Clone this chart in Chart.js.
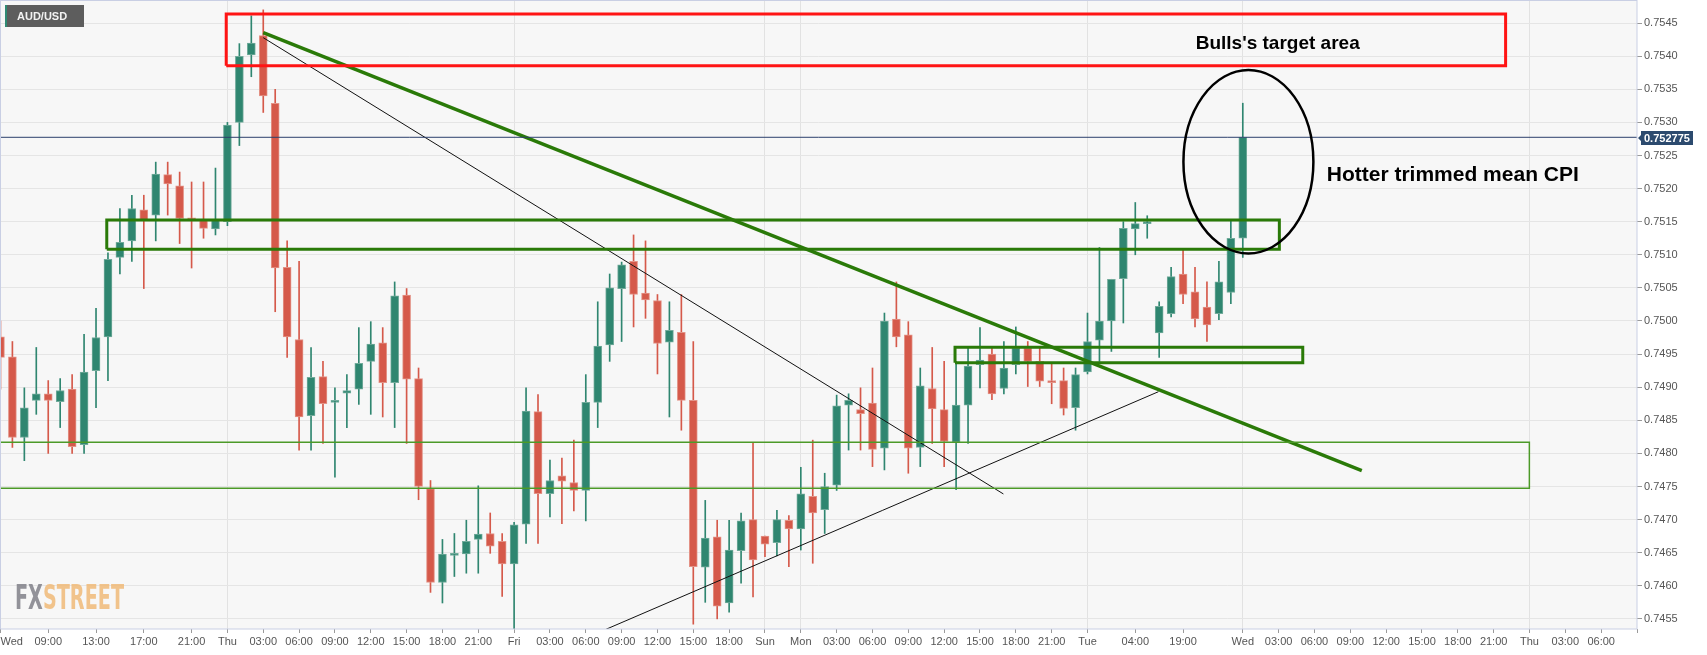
<!DOCTYPE html>
<html>
<head>
<meta charset="utf-8">
<title>AUD/USD</title>
<script src="https://cdn.jsdelivr.net/npm/chart.js@4.4.0/dist/chart.umd.min.js"></script>
<style>
  html, body { margin: 0; padding: 0; background: #fff; }
  #wrap { width: 1707px; height: 655px; }
</style>
</head>
<body>
<div id="wrap"><canvas id="chart" width="1707" height="655"></canvas></div>
<script>
// hourly candles, one slot per candle (weekend / missing hours removed)
const opens = [
  0.74976, 0.74946, 0.74824, 0.74880, 0.74890, 0.74878, 0.74897, 0.74813, 0.74925, 0.74976,
  0.75096, 0.75121, 0.75168, 0.75160, 0.75221, 0.75204, 0.75155, 0.75153, 0.75139, 0.75150,
  0.75300, 0.75402, 0.75431, 0.75329, 0.75081, 0.74972, 0.74857, 0.74916, 0.74877, 0.74891,
  0.74897, 0.74939, 0.74967, 0.74907, 0.75039, 0.74913, 0.74747, 0.74605, 0.74646, 0.74648,
  0.74670, 0.74679, 0.74667, 0.74633, 0.74693, 0.74863, 0.74739, 0.74766, 0.74756, 0.74744,
  0.74877, 0.74964, 0.75049, 0.75090, 0.75042, 0.75031, 0.74968, 0.74983, 0.74880, 0.74628,
  0.74674, 0.74574, 0.74653, 0.74700, 0.74675, 0.74665, 0.74699, 0.74686, 0.74735, 0.74715,
  0.74752, 0.74873, 0.74866, 0.74876, 0.74808, 0.75003, 0.74979, 0.74809, 0.74898, 0.74866,
  0.74817, 0.74873, 0.74934, 0.74950, 0.74898, 0.74934, 0.74959, 0.74939, 0.74909, 0.74910,
  0.74869, 0.74923, 0.74971, 0.75000, 0.75064, 0.75139, 0.75147, 0.74982, 0.75011, 0.75071,
  0.75044, 0.75021, 0.75011, 0.75043, 0.75125
];
const highs = [
  0.75000, 0.74969, 0.74899, 0.74960, 0.74910, 0.74913, 0.74919, 0.74980, 0.75019, 0.75103,
  0.75170, 0.75190, 0.75190, 0.75240, 0.75240, 0.75225, 0.75210, 0.75210, 0.75231, 0.75300,
  0.75419, 0.75461, 0.75470, 0.75350, 0.75121, 0.75090, 0.74960, 0.74939, 0.74899, 0.74919,
  0.74990, 0.74999, 0.74990, 0.75059, 0.75049, 0.74929, 0.74759, 0.74670, 0.74679, 0.74699,
  0.74751, 0.74710, 0.74679, 0.74696, 0.74899, 0.74889, 0.74790, 0.74793, 0.74820, 0.74919,
  0.75029, 0.75071, 0.75089, 0.75130, 0.75121, 0.75040, 0.75029, 0.75040, 0.74969, 0.74729,
  0.74699, 0.74699, 0.74710, 0.74816, 0.74675, 0.74714, 0.74706, 0.74779, 0.74820, 0.74770,
  0.74888, 0.74890, 0.74899, 0.74929, 0.75012, 0.75059, 0.74999, 0.74929, 0.74960, 0.74939,
  0.74939, 0.74959, 0.74990, 0.74961, 0.74969, 0.74991, 0.74969, 0.74959, 0.74937, 0.74929,
  0.74929, 0.75012, 0.75111, 0.75063, 0.75150, 0.75179, 0.75159, 0.75029, 0.75081, 0.75107,
  0.75081, 0.75059, 0.75090, 0.75153, 0.75329
];
const lows = [
  0.74897, 0.74809, 0.74789, 0.74859, 0.74800, 0.74839, 0.74800, 0.74800, 0.74869, 0.74910,
  0.75071, 0.75090, 0.75049, 0.75121, 0.75160, 0.75117, 0.75080, 0.75125, 0.75130, 0.75144,
  0.75265, 0.75369, 0.75315, 0.75014, 0.74945, 0.74805, 0.74805, 0.74815, 0.74764, 0.74839,
  0.74874, 0.74859, 0.74855, 0.74839, 0.74815, 0.74730, 0.74590, 0.74574, 0.74614, 0.74619,
  0.74619, 0.74649, 0.74584, 0.74530, 0.74664, 0.74664, 0.74704, 0.74694, 0.74713, 0.74698,
  0.74839, 0.74939, 0.74969, 0.74991, 0.75004, 0.74920, 0.74855, 0.74835, 0.74542, 0.74575,
  0.74550, 0.74560, 0.74604, 0.74583, 0.74644, 0.74645, 0.74629, 0.74654, 0.74634, 0.74679,
  0.74744, 0.74805, 0.74805, 0.74780, 0.74775, 0.74961, 0.74770, 0.74780, 0.74815, 0.74780,
  0.74745, 0.74815, 0.74899, 0.74881, 0.74890, 0.74920, 0.74901, 0.74901, 0.74875, 0.74858,
  0.74835, 0.74920, 0.74939, 0.74954, 0.74997, 0.75100, 0.75125, 0.74945, 0.75006, 0.75026,
  0.74991, 0.74969, 0.75002, 0.75026, 0.75096
];
const closes = [
  0.74945, 0.74824, 0.74869, 0.74890, 0.74880, 0.74895, 0.74810, 0.74923, 0.74975, 0.75093,
  0.75119, 0.75170, 0.75153, 0.75222, 0.75207, 0.75155, 0.75153, 0.75140, 0.75153, 0.75296,
  0.75400, 0.75420, 0.75340, 0.75080, 0.74976, 0.74855, 0.74915, 0.74875, 0.74880, 0.74895,
  0.74936, 0.74965, 0.74907, 0.75038, 0.74912, 0.74750, 0.74605, 0.74648, 0.74649, 0.74667,
  0.74678, 0.74660, 0.74633, 0.74692, 0.74864, 0.74739, 0.74759, 0.74758, 0.74744, 0.74877,
  0.74962, 0.75050, 0.75085, 0.75040, 0.75032, 0.74966, 0.74986, 0.74880, 0.74629, 0.74672,
  0.74569, 0.74654, 0.74698, 0.74639, 0.74663, 0.74700, 0.74686, 0.74739, 0.74710, 0.74750,
  0.74872, 0.74880, 0.74860, 0.74806, 0.75000, 0.74976, 0.74808, 0.74902, 0.74867, 0.74818,
  0.74873, 0.74932, 0.74941, 0.74890, 0.74929, 0.74959, 0.74939, 0.74909, 0.74907, 0.74868,
  0.74919, 0.74969, 0.75000, 0.75063, 0.75140, 0.75147, 0.75148, 0.75022, 0.75067, 0.75040,
  0.75003, 0.74994, 0.75059, 0.75125, 0.752775
];

// x axis labels (slot index -> text)
const xTickSlots = [0, 4, 8, 12, 16, 19, 22, 25, 28, 31, 34, 37, 40, 43, 46, 49, 52, 55, 58, 61,
  64, 67, 70, 73, 76, 79, 82, 85, 88, 91, 95, 99, 104, 107, 110, 113, 116, 119, 122, 125,
  128, 131, 134, 137];
const xTickLabels = ["Wed", "09:00", "13:00", "17:00", "21:00", "Thu", "03:00", "06:00", "09:00",
  "12:00", "15:00", "18:00", "21:00", "Fri", "03:00", "06:00", "09:00", "12:00", "15:00", "18:00",
  "Sun", "Mon", "03:00", "06:00", "09:00", "12:00", "15:00", "18:00", "21:00", "Tue", "04:00",
  "19:00", "Wed", "03:00", "06:00", "09:00", "12:00", "15:00", "18:00", "21:00", "Thu", "03:00",
  "06:00", ""];
const dayNames = ["Wed", "Thu", "Fri", "Sun", "Mon", "Tue"];

const priceTicks = [0.7455, 0.7460, 0.7465, 0.7470, 0.7475, 0.7480, 0.7485, 0.7490, 0.7495,
  0.7500, 0.7505, 0.7510, 0.7515, 0.7520, 0.7525, 0.7530, 0.7535, 0.7540, 0.7545];

const X_MIN = -0.038, X_MAX = 137.0;
const Y_MIN = 0.745347, Y_MAX = 0.754834;
const lastPrice = closes[closes.length - 1];

// drawn annotations, in (slot, price)
const targetBox = [18.9, 126.0, 0.753857, 0.754637];
const resistBox = [8.9, 107.06, 0.751083, 0.751526];
const supportBox = [79.91, 109.02, 0.749370, 0.749603];
const zoneBox = [X_MIN, 127.99, 0.747473, 0.748167];
const trendThick = [[22.0, 0.754355], [113.96, 0.747739]];
const trendDown = [[22.0, 0.754280], [83.96, 0.747387]];
const trendUp = [[50.7, 0.745343], [96.94, 0.748932]];
const cpiEllipse = { x: 104.47, y: 0.752406, rx: 5.44, ry: 0.001385 };

const FONT = '"Liberation Sans", Arial, sans-serif';
const GREEN = "#2f8670", RED = "#d5594a";
const GREEN_EDGE = "#72ab9b", RED_EDGE = "#e39488";

const slots = opens.map((_, i) => i);
const up = i => closes[i] >= opens[i];

function box(b) {
  return [
    { x: b[0], y: b[2] }, { x: b[1], y: b[2] }, { x: b[1], y: b[3] },
    { x: b[0], y: b[3] }, { x: b[0], y: b[2] }
  ];
}
function seg(s) {
  return s.map(p => ({ x: p[0], y: p[1] }));
}
function lineSet(data, color, width, order) {
  return {
    type: "line", data: data, borderColor: color, borderWidth: width,
    pointRadius: 0, fill: false, tension: 0, borderJoinStyle: "miter", order: order
  };
}
// keep the plot flush with the canvas edges
function noPad(s) {
  s.paddingTop = 0;
  s.paddingBottom = 0;
  s.paddingLeft = 0;
  s.paddingRight = 0;
}

const decor = {
  id: "decor",
  beforeDraw(chart) {
    const { ctx, chartArea: a } = chart;
    ctx.save();
    ctx.fillStyle = "#f7f7f7";
    ctx.fillRect(a.left, a.top, a.right - a.left, a.bottom - a.top);
    ctx.restore();
  },
  afterDatasetsDraw(chart) {
    const { ctx } = chart;
    const xs = chart.scales.x, ys = chart.scales.y;
    ctx.save();
    // ellipse round the CPI candle
    const cx = xs.getPixelForValue(cpiEllipse.x);
    const cy = ys.getPixelForValue(cpiEllipse.y);
    const rx = Math.abs(xs.getPixelForValue(cpiEllipse.x + cpiEllipse.rx) - cx);
    const ry = Math.abs(ys.getPixelForValue(cpiEllipse.y + cpiEllipse.ry) - cy);
    ctx.beginPath();
    ctx.ellipse(cx, cy, rx, ry, 0, 0, Math.PI * 2);
    ctx.strokeStyle = "#000";
    ctx.lineWidth = 2.5;
    ctx.stroke();

    ctx.fillStyle = "#000";
    ctx.textBaseline = "middle";
    ctx.textAlign = "left";
    ctx.font = "bold 19px " + FONT;
    ctx.fillText("Bulls's target area", xs.getPixelForValue(100.06), ys.getPixelForValue(0.754184));
    ctx.font = "bold 21px " + FONT;
    ctx.fillText("Hotter trimmed mean CPI", xs.getPixelForValue(111.03), ys.getPixelForValue(0.752205));

    // watermark
    ctx.font = "bold 33px \"Liberation Sans Narrow\", \"DejaVu Sans Condensed\", " + FONT;
    const w1 = ctx.measureText("FX").width;
    const w2 = ctx.measureText("STREET").width;
    const k = 109 / (w1 + w2);
    ctx.translate(15, 609);
    ctx.scale(k, 1);
    ctx.textBaseline = "alphabetic";
    ctx.fillStyle = "rgba(128,128,136,0.85)";
    ctx.fillText("FX", 0, 0);
    ctx.fillStyle = "rgba(240,186,120,0.85)";
    ctx.fillText("STREET", w1, 0);
    ctx.restore();
  },
  afterDraw(chart) {
    const { ctx, chartArea: a } = chart;
    const ys = chart.scales.y;
    ctx.save();
    // frame
    ctx.strokeStyle = "#c9cfe4";
    ctx.lineWidth = 1;
    ctx.strokeRect(a.left + 0.5, a.top - 0.5, a.right - a.left - 0.5, a.bottom - a.top + 0.5);

    // symbol tag
    ctx.fillStyle = "#5d5d5d";
    ctx.fillRect(5, 5, 79, 22);
    ctx.fillStyle = "#2f8a74";
    ctx.fillRect(5, 5, 2, 22);
    ctx.fillStyle = "#f2f2f2";
    ctx.font = "bold 11px " + FONT;
    ctx.textBaseline = "middle";
    ctx.fillText("AUD/USD", 17, 16.5);

    // last price tag
    const py = Math.round(ys.getPixelForValue(lastPrice));
    ctx.fillStyle = "#2c4a6e";
    ctx.beginPath();
    ctx.moveTo(a.right + 1, py + 1);
    ctx.lineTo(a.right + 4, py - 2);
    ctx.lineTo(a.right + 4, py - 6);
    ctx.lineTo(a.right + 56, py - 6);
    ctx.lineTo(a.right + 56, py + 8);
    ctx.lineTo(a.right + 4, py + 8);
    ctx.lineTo(a.right + 4, py + 4);
    ctx.closePath();
    ctx.fill();
    ctx.fillStyle = "#fff";
    ctx.textAlign = "left";
    ctx.fillText(lastPrice.toFixed(6), a.right + 7, py + 1.5);
    ctx.restore();
  }
};

new Chart(document.getElementById("chart"), {
  type: "bar",
  data: {
    datasets: [
      lineSet([{ x: X_MIN, y: lastPrice }, { x: X_MAX, y: lastPrice }], "#2b3f6b", 1, 0),
      lineSet(box(targetBox), "#ff1414", 3, 1),
      lineSet(box(resistBox), "#2a7a08", 3, 1),
      lineSet(box(supportBox), "#2a7a08", 3, 1),
      lineSet(box(zoneBox), "#4c9a28", 1.5, 1),
      lineSet(seg(trendThick), "#2a7a08", 3.5, 1),
      lineSet(seg(trendDown), "#111", 1, 1),
      lineSet(seg(trendUp), "#111", 1, 1),
      {
        data: slots.map(i => ({ x: i, y: [opens[i], closes[i]] })),
        backgroundColor: c => (up(c.dataIndex) ? GREEN : RED),
        borderColor: c => (up(c.dataIndex) ? GREEN_EDGE : RED_EDGE),
        borderWidth: 1,
        borderSkipped: false,
        barThickness: 8,
        minBarLength: 2,
        grouped: false,
        order: 2
      },
      {
        data: slots.map(i => ({ x: i, y: [lows[i], highs[i]] })),
        backgroundColor: c => (up(c.dataIndex) ? GREEN : RED),
        borderWidth: 0,
        barThickness: 1,
        grouped: false,
        order: 3
      }
    ]
  },
  options: {
    responsive: false,
    animation: false,
    events: [],
    layout: { padding: { left: 0, top: 1, right: 0, bottom: 0 } },
    plugins: { legend: { display: false }, tooltip: { enabled: false } },
    scales: {
      x: {
        type: "linear",
        min: X_MIN,
        max: X_MAX,
        offset: false,
        afterBuildTicks: s => { s.ticks = xTickSlots.map(v => ({ value: v })); },
        afterFit: s => { s.height = 26; noPad(s); },
        ticks: {
          autoSkip: false,
          maxRotation: 0,
          minRotation: 0,
          align: "inner",
          padding: 2,
          color: "#555",
          font: { family: FONT, size: 11 },
          callback: (v, i) => xTickLabels[i]
        },
        grid: {
          offset: false,
          color: c => (dayNames.includes(xTickLabels[c.index]) ? "#e2e2e2" : "rgba(0,0,0,0)"),
          tickColor: "#9a9a9a",
          tickLength: 4
        },
        border: { display: false }
      },
      y: {
        position: "right",
        min: Y_MIN,
        max: Y_MAX,
        afterBuildTicks: s => { s.ticks = priceTicks.map(v => ({ value: v })); },
        afterFit: s => { s.width = 70; noPad(s); },
        ticks: {
          padding: 2,
          color: "#555",
          font: { family: FONT, size: 11 },
          callback: v => v.toFixed(4)
        },
        grid: { color: "#e5e5e5", tickColor: "#9a9a9a", tickLength: 5 },
        border: { display: false }
      }
    }
  },
  plugins: [decor]
});
</script>
</body>
</html>
